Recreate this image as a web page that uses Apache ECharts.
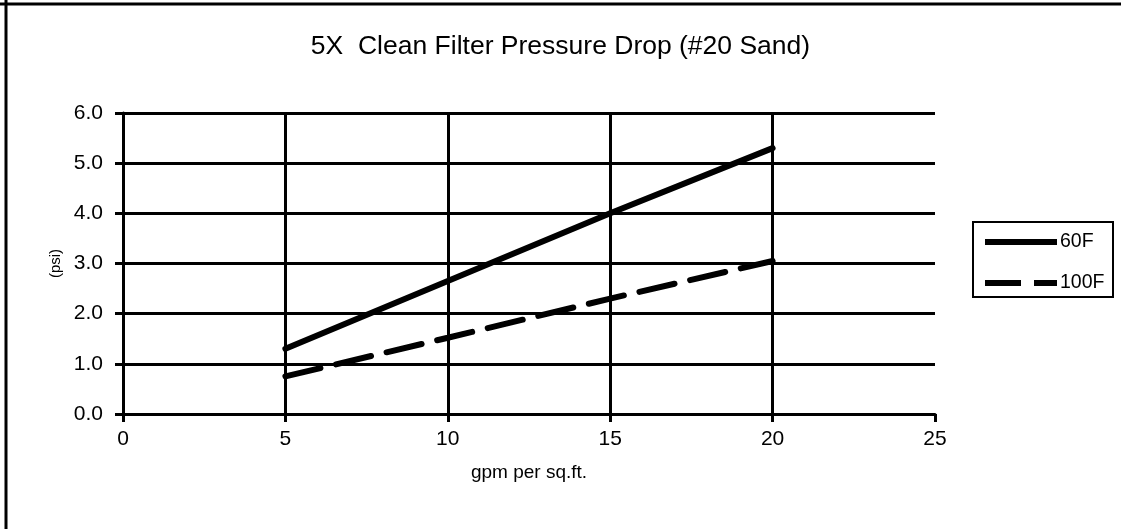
<!DOCTYPE html>
<html>
<head>
<meta charset="utf-8">
<script src="https://cdn.jsdelivr.net/npm/echarts@6/dist/echarts.min.js"></script>
<style>
html,body{margin:0;padding:0;background:#fff;}
#c{width:1121px;height:529px;}
</style>
</head>
<body>
<div id="c"></div>
<script>
const xValues = [5, 10, 15, 20];
const series60F = [1.3, 2.65, 4.0, 5.3];
const series100F = [0.75, 1.52, 2.3, 3.05];
const seriesNames = ['60F', '100F'];
const titleText = '5X  Clean Filter Pressure Drop (#20 Sand)';
const xAxisTitle = 'gpm per sq.ft.';
const yAxisTitle = '(psi)';

const chart = echarts.init(document.getElementById('c'));
const font = 'Liberation Sans, Arial, sans-serif';
chart.setOption({
  animation: false,
  backgroundColor: '#fff',
  title: {
    text: titleText, left: 'center', top: 28,
    textStyle: {fontFamily: font, fontSize: 26.5, fontWeight: 'normal', color: '#000'}
  },
  graphic: [
    {type: 'line', shape: {x1: 6, y1: 0, x2: 6, y2: 529}, style: {stroke: '#000', lineWidth: 3}},
    {type: 'line', shape: {x1: 0, y1: 4, x2: 1121, y2: 4}, style: {stroke: '#000', lineWidth: 3}},
    {type: 'rect', shape: {x: 973, y: 222, width: 140, height: 75}, style: {fill: 'none', stroke: '#000', lineWidth: 2}, z: 1}
  ],
  legend: {
    orient: 'vertical', left: 985, top: 232, padding: 0,
    itemWidth: 72, itemHeight: 6, itemGap: 21,
    data: [
      {name: seriesNames[0], icon: 'path://M0,0h72v6H0z'},
      {name: seriesNames[1], icon: 'path://M0,0h36v6H0z M49,0h23v6H49z'}
    ],
    itemStyle: {color: '#000', borderWidth: 0},
    textStyle: {fontFamily: font, fontSize: 19.5, lineHeight: 20, color: '#000', padding: [0, 0, 0, -2]}
  },
  grid: {left: 123, right: 186, top: 113, bottom: 115},
  xAxis: {
    type: 'value', min: 0, max: 25, interval: 5,
    name: xAxisTitle, nameLocation: 'middle', nameGap: 49,
    nameTextStyle: {fontFamily: font, fontSize: 19, color: '#000'},
    axisLine: {show: true, onZero: false, lineStyle: {color: '#000', width: 3}},
    axisTick: {show: true, length: 8, lineStyle: {color: '#000', width: 3}},
    axisLabel: {fontFamily: font, fontSize: 21, color: '#000', margin: 15},
    splitLine: {show: true, showMinLine: false, showMaxLine: false, lineStyle: {color: '#000', width: 3}}
  },
  yAxis: {
    type: 'value', min: 0, max: 6, interval: 1,
    name: yAxisTitle, nameLocation: 'middle', nameGap: 60, nameRotate: 90,
    nameTextStyle: {fontFamily: font, fontSize: 15, color: '#000'},
    axisLine: {show: true, lineStyle: {color: '#000', width: 3}},
    axisTick: {show: true, length: 8, lineStyle: {color: '#000', width: 3}},
    axisLabel: {fontFamily: font, fontSize: 21, color: '#000', margin: 20, formatter: v => v.toFixed(1)},
    splitLine: {show: true, lineStyle: {color: '#000', width: 3}}
  },
  series: [
    {
      name: seriesNames[0], type: 'line', symbol: 'none',
      data: xValues.map((x, i) => [x, series60F[i]]),
      lineStyle: {color: '#000', width: 6, cap: 'round'},
      itemStyle: {color: '#000'}, z: 5
    },
    {
      name: seriesNames[1], type: 'line', symbol: 'none',
      data: xValues.map((x, i) => [x, series100F[i]]),
      lineStyle: {color: '#000', width: 6, type: [36, 16], cap: 'round'},
      itemStyle: {color: '#000'}, z: 5
    }
  ]
});
</script>
</body>
</html>
